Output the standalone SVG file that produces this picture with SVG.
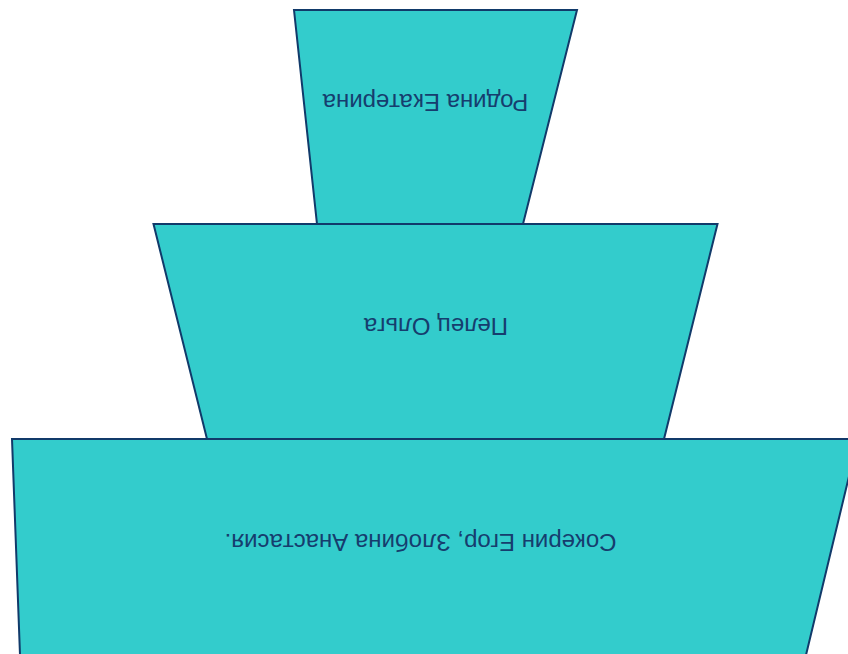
<svg xmlns="http://www.w3.org/2000/svg" width="848" height="654" viewBox="0 0 848 654">
<style>
.shape{fill:#33cccc;stroke:#113a6a;stroke-width:2;stroke-linejoin:miter}
.lbl{font-family:"Liberation Sans",Arial,sans-serif;font-size:24px;fill:#163d6e;text-anchor:middle;dominant-baseline:central}
</style>
<rect width="848" height="654" fill="#ffffff"/>
<g id="connectors"></g>
<g id="node-bottom">
<polygon class="shape" points="12,439 858,439 806,655 20,655"/>
<text class="lbl" transform="translate(420.5,542) rotate(180)">Сокерин Егор, Злобина Анастасия.</text>
</g>
<g id="node-middle">
<polygon class="shape" points="153.5,224 717.5,224 664,439 207,439"/>
<text class="lbl" transform="translate(436,326) rotate(180)">Пелец Ольга</text>
</g>
<g id="node-top">
<polygon class="shape" points="294,10 577,10 523,224 317,224"/>
<text class="lbl" transform="translate(425.5,102) rotate(180)">Родина Екатерина</text>
</g>
</svg>
